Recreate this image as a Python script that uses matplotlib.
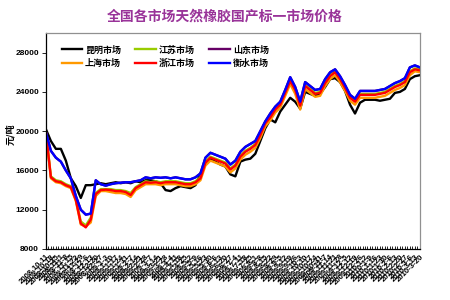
import matplotlib
matplotlib.use("Agg")
import matplotlib.pyplot as plt
from matplotlib.ticker import MultipleLocator
import pandas as pd

plt.rcParams['font.family'] = ['Noto Sans CJK SC', 'DejaVu Sans']

title = "全国各市场天然橡胶国产标一市场价格"
ylabel = "元/吨"
series_names = ["昆明市场", "江苏市场", "山东市场", "上海市场", "浙江市场", "衡水市场"]
series_colors = ["#000000", "#99cc00", "#660066", "#ff9900", "#ff0000", "#0000ff"]

dates = pd.date_range(end="2010-03-20", periods=76, freq="7D")
date_labels = [f"{d.year}-{d.month}-{d.day}" for d in dates]

kunming = [20200, 19000, 18200, 18200, 17000, 15200, 14400, 13200, 14500, 14500,
           14600, 14700, 14600, 14700, 14800, 14700, 14800, 14700, 14900, 14800,
           15000, 15000, 14900, 14700, 14000, 13900, 14200, 14400, 14300, 14200,
           14500, 15700, 16800, 17200, 16900, 16600, 16400, 15600, 15400, 16900,
           17100, 17200, 17700, 19000, 20300, 21200, 20900, 22000, 22700, 23400,
           23000, 22300, 24000, 23800, 23600, 23800, 24500, 25300, 25400, 25000,
           24100, 22700, 21800, 22900, 23200, 23200, 23200, 23100, 23200, 23300,
           23900, 24000, 24300, 25300, 25600, 25700]

jiangsu = [19900, 15400, 15000, 14900, 14600, 14400, 13100, 10800, 10400, 11200,
           13700, 14100, 14100, 14100, 14000, 14000, 13900, 13700, 14300, 14600,
           14900, 14800, 14900, 14800, 14900, 14900, 14900, 14800, 14700, 14700,
           14900, 15300, 16900, 17400, 17200, 17000, 16800, 16200, 16600, 17500,
           18000, 18300, 18700, 19700, 20900, 21500, 22300, 22800, 24000, 25200,
           24300, 22700, 24700, 24300, 23900, 24000, 25000, 25700, 26100, 25400,
           24500, 23500, 23100, 23800, 23800, 23800, 23800, 23900, 24000, 24300,
           24600, 24800, 25100, 26100, 26400, 26300]

shandong = [19900, 18000, 17300, 16900, 16000, 15200, 13400, 12000, 11500, 11600,
            15000, 14600, 14450, 14600, 14700, 14750, 14800, 14800, 14900, 15000,
            15300, 15200, 15300, 15250, 15300, 15200, 15300, 15200, 15100, 15100,
            15300, 15700, 17300, 17800, 17600, 17400, 17200, 16600, 17000, 17900,
            18400, 18700, 19000, 20000, 21000, 21800, 22500, 23000, 24200, 25500,
            24500, 23000, 25000, 24600, 24200, 24300, 25300, 26000, 26300, 25600,
            24700, 23700, 23300, 24100, 24100, 24100, 24100, 24200, 24300, 24600,
            24900, 25100, 25400, 26500, 26700, 26500]

shanghai = [19800, 15200, 14800, 14700, 14400, 14200, 12900, 10500, 10300, 10700,
            13400, 13900, 13900, 13800, 13700, 13700, 13600, 13300, 14000, 14300,
            14600, 14600, 14600, 14500, 14600, 14600, 14600, 14500, 14400, 14400,
            14600, 15000, 16500, 17000, 16800, 16600, 16400, 15800, 16200, 17100,
            17600, 17900, 18300, 19300, 20500, 21100, 21900, 22400, 23600, 24800,
            23800, 22200, 24300, 23900, 23500, 23600, 24600, 25300, 25700, 25000,
            24100, 23100, 22700, 23400, 23400, 23400, 23400, 23500, 23600, 23900,
            24200, 24400, 24700, 25700, 26100, 26000]

zhejiang = [19900, 15300, 14900, 14800, 14500, 14300, 13000, 10600, 10200, 11000,
            13600, 14000, 14050, 14000, 13900, 13900, 13800, 13500, 14200, 14500,
            14800, 14750, 14800, 14700, 14800, 14800, 14800, 14700, 14600, 14600,
            14800, 15200, 16800, 17300, 17100, 16900, 16700, 16100, 16500, 17400,
            17900, 18200, 18600, 19600, 20800, 21400, 22200, 22700, 23900, 25100,
            24200, 22600, 24600, 24200, 23800, 23900, 24900, 25600, 26000, 25300,
            24400, 23400, 23000, 23700, 23700, 23700, 23700, 23800, 23900, 24200,
            24500, 24700, 25000, 26000, 26300, 26200]

hengshui = [19900, 18000, 17300, 16900, 16000, 15200, 13400, 12000, 11500, 11600,
            15000, 14600, 14450, 14600, 14700, 14750, 14800, 14800, 14900, 15000,
            15300, 15200, 15300, 15250, 15300, 15200, 15300, 15200, 15100, 15100,
            15300, 15700, 17300, 17800, 17600, 17400, 17200, 16600, 17000, 17900,
            18400, 18700, 19000, 20000, 21000, 21800, 22500, 23000, 24200, 25500,
            24500, 23000, 25000, 24600, 24200, 24300, 25300, 26000, 26300, 25600,
            24700, 23700, 23300, 24100, 24100, 24100, 24100, 24200, 24300, 24600,
            24900, 25100, 25400, 26500, 26700, 26500]

yticks = [8000, 12000, 16000, 20000, 24000, 28000]

all_series = [kunming, jiangsu, shandong, shanghai, zhejiang, hengshui]

fig = plt.figure(figsize=(4.5, 3), dpi=100)
ax = fig.add_axes([0.102, 0.17, 0.831, 0.72])

x = list(range(len(date_labels)))
handles = []
for name, color, vals in zip(series_names, series_colors, all_series):
    h, = ax.plot(x, vals, color=color, lw=1.7, label=name)
    handles.append(h)

ax.set_xlim(0, len(x) - 1)
ax.set_ylim(8000, 30000)
ax.set_yticks(yticks)
ax.set_yticklabels([str(v) for v in yticks], fontsize=6, fontweight='bold',
                   family=['Liberation Sans', 'DejaVu Sans'])
ax.set_xticks(x)
ax.set_xticklabels(date_labels, rotation=45, ha='right', rotation_mode='anchor',
                   fontsize=5.6, fontweight='bold', family=['Liberation Sans', 'DejaVu Sans'])
ax.xaxis.set_minor_locator(MultipleLocator(0.5))
ax.tick_params(axis='x', which='both', direction='in', length=2.5, width=0.6, pad=3)
ax.tick_params(axis='y', direction='out', length=3, width=0.6, pad=2)

for s in ['left', 'bottom']:
    ax.spines[s].set_color('#000000')
    ax.spines[s].set_linewidth(0.9)
for s in ['top', 'right']:
    ax.spines[s].set_color('#909090')
    ax.spines[s].set_linewidth(0.9)

fig.text(0.024, 0.553, ylabel, rotation=90, ha='center', va='center',
         fontsize=6.5, fontweight='bold')

order = [0, 3, 1, 4, 2, 5]
ax.legend([handles[i] for i in order], [series_names[i] for i in order],
          ncol=3, loc='upper left', bbox_to_anchor=(0.02, 0.98), frameon=False,
          prop={'size': 6.5, 'weight': 'bold'}, handlelength=2.3,
          handletextpad=0.3, columnspacing=1.6, labelspacing=0.5)

fig.text(0.5, 0.945, title, ha='center', va='center', fontsize=10,
         fontweight='bold', color='#993399')

fig.savefig("out.png", dpi=100)
